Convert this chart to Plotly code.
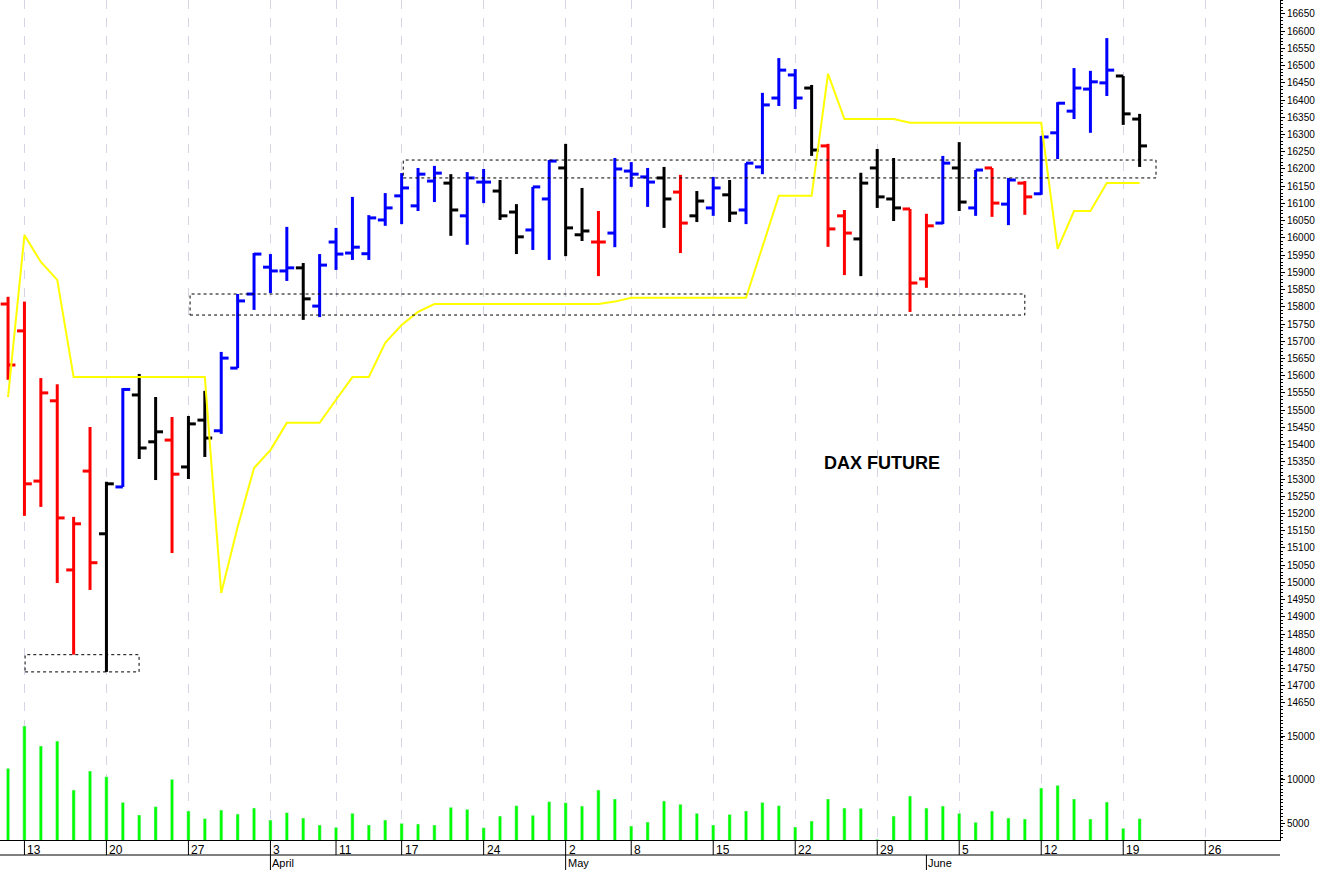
import plotly.graph_objects as go

# ---- data (index 0 = 10 Mar 2023, trading days) ----
opens  = [15808,15730,15294,15527,15036,15323,15141,15277,15544,15408,15413,15335,15471,15440,15622,15837,15915,15904,15913,15802,
          15988,15956,15954,16052,16122,16093,16165,16159,16064,16162,16136,16075,16023,16113,16203,16009,15988,16014,16194,16177,
          16174,16133,16064,16087,16125,16081,16206,16406,16473,16435,16267,16064,15997,16203,16113,16084,15881,16043,16203,16087,
          16203,16098,16159,16128,16305,16368,16432,16450,16470,16345]
highs  = [15829,15815,15593,15575,15190,15451,15292,15564,15605,15538,15480,15483,15556,15669,15837,15956,15953,16032,15927,15953,
          16029,16119,16066,16130,16188,16203,16209,16185,16191,16200,16168,16098,16148,16226,16273,16145,16078,16232,16220,16203,
          16206,16183,16136,16177,16168,16217,16421,16522,16490,16444,16273,16081,16189,16258,16232,16084,16070,16238,16278,16197,
          16203,16174,16165,16296,16394,16493,16485,16580,16470,16360]
lows   = [15588,15193,15219,14998,14790,14978,14740,15277,15358,15297,15085,15300,15364,15431,15622,15791,15840,15875,15762,15770,
          15907,15936,15936,16035,16040,16078,16104,16006,15980,16101,16052,15953,15965,15936,15947,15991,15889,15973,16148,16090,
          16029,15956,16046,16064,16046,16040,16185,16383,16374,16238,15974,15892,15889,16087,16049,15785,15855,16040,16078,16064,
          16061,16037,16067,16125,16229,16345,16305,16412,16328,16206]
closes = [15631,15286,15550,15187,15170,15057,15286,15560,15390,15437,15314,15460,15419,15651,15817,15953,15904,15913,15823,15921,
          15953,15973,16058,16087,16145,16185,16188,16081,16174,16162,16064,16003,16148,16223,16029,16020,15988,16200,16185,16162,
          16113,16043,16107,16145,16072,16217,16386,16487,16406,16255,16026,16014,16159,16119,16087,15869,16035,16217,16104,16197,
          16101,16168,16119,16293,16391,16435,16453,16487,16360,16267]
bar_color = list("RRRRRRKBKKRKKBBBBBKBBBBBBBBKBBKKBBKKRBBBKRKBKBBBBKRRKKKRRBKBRBRBBBBBKK")
volume = [11280,16150,13850,14420,8790,10970,10320,7370,5920,6880,10020,6380,5500,6490,6030,6720,5340,6190,5570,4770,
          4500,6110,4770,5340,4960,4880,4770,6800,6570,4460,5800,6990,5880,7450,7330,6950,8790,7760,4650,5110,
          7530,7150,6110,4770,5990,6380,7370,6990,4540,5230,7760,6720,6690,3120,5800,8100,6720,6950,6110,5080,
          6380,5570,5460,9020,9330,7760,5460,7410,4390,5500]
stop_line = [15538,16008,15930,15878,15596,15596,15596,15596,15596,15596,15596,15596,15596,14969,15161,15332,15384,15463,15463,15463,
             15530,15596,15596,15695,15747,15785,15808,15808,15808,15808,15808,15808,15808,15808,15808,15808,15808,15815,15826,15826,
             15826,15826,15826,15826,15826,15826,15974,16122,16122,16122,16476,16345,16345,16345,16345,16334,16334,16334,16334,16334,
             16334,16334,16334,16334,15968,16078,16078,16159,16159,16159]
week_idx = [1,6,11,16,20,24,29,34,38,43,48,53,58,63,68,73]
week_lbl = ["13","20","27","3","11","17","24","2","8","15","22","29","5","12","19","26"]
month_idx = [16,34,56]
month_lbl = ["April","May","June"]
boxes = [(1.04,7.99,14740,14790),(11.1,62.0,15776,15837),(24.1,70.0,16174,16226)]
price_ticks = list(range(14650,16651,50))
vol_ticks = [5000,10000,15000]

cmap = {"R":"#ff0000","B":"#0000ff","K":"#000000"}
fig = go.Figure()
tw = 0.45
for code, col in cmap.items():
    xs, ys = [], []
    for i in range(len(opens)):
        if bar_color[i] != code:
            continue
        xs += [i, i, None, i - tw, i, None, i, i + tw, None]
        ys += [lows[i], highs[i], None, opens[i], opens[i], None, closes[i], closes[i], None]
    fig.add_trace(go.Scatter(x=xs, y=ys, mode="lines", line=dict(color=col, width=3), hoverinfo="skip"))

fig.add_trace(go.Scatter(x=list(range(len(stop_line))), y=stop_line, mode="lines",
                         line=dict(color="#ffff00", width=2), hoverinfo="skip"))
fig.add_trace(go.Bar(x=list(range(len(volume))), y=volume, marker_color="#00ff00", width=0.2,
                     yaxis="y2", hoverinfo="skip"))

for x0, x1, y0, y1 in boxes:
    fig.add_shape(type="rect", x0=x0, x1=x1, y0=y0, y1=y1, xref="x", yref="y",
                  line=dict(color="black", width=1, dash="dot"))

px = 1 / 840
fig.add_shape(type="line", xref="paper", yref="paper", x0=0, x1=1, y0=-15 * px, y1=-15 * px,
              line=dict(color="black", width=1))
for i, t in zip(week_idx, week_lbl):
    fig.add_shape(type="line", xref="x", yref="paper", x0=i, x1=i, y0=0, y1=-15 * px,
                  line=dict(color="black", width=1))
    fig.add_annotation(x=i, y=-1 * px, xref="x", yref="paper", text=t, showarrow=False,
                       xanchor="left", yanchor="top", xshift=1, font=dict(size=12, family="Arial", color="black"))
for i, t in zip(month_idx, month_lbl):
    fig.add_shape(type="line", xref="x", yref="paper", x0=i, x1=i, y0=-15 * px, y1=-30 * px,
                  line=dict(color="black", width=1))
    fig.add_annotation(x=i, y=-15 * px, xref="x", yref="paper", text=t, showarrow=False,
                       xanchor="left", yanchor="top", xshift=0, font=dict(size=11, family="Arial", color="black"))

fig.add_annotation(x=53.3, y=15346, xref="x", yref="y", text="<b>DAX FUTURE</b>", showarrow=False,
                   font=dict(size=18, family="Arial", color="black"))
fig.add_annotation(x=1.0, y=3, xref="paper", yref="paper", text="x10", showarrow=False,
                   xanchor="left", yanchor="bottom", xshift=2, borderwidth=1, bordercolor="black",
                   borderpad=0, font=dict(size=8, family="Arial", color="black"))

fig.update_layout(
    width=1328, height=870, margin=dict(l=0, r=48, t=0, b=30, autoexpand=False),
    paper_bgcolor="white", plot_bgcolor="white", showlegend=False,
    xaxis=dict(range=[-0.49, 77.56], tickvals=week_idx, showticklabels=False, ticks="",
               showgrid=True, gridcolor="#d4d4e4", griddash="dash", gridwidth=1, automargin=False,
               showline=True, linecolor="black", linewidth=1, zeroline=False, fixedrange=True),
    yaxis=dict(range=[14252, 16690.6], side="right", tickvals=price_ticks, showgrid=False,
               tickformat="d", automargin=False,
               ticks="outside", ticklen=4, tickcolor="black", showline=True, linecolor="black",
               minor=dict(dtick=10, ticklen=2, ticks="outside", tickcolor="black", showgrid=False),
               tickfont=dict(size=10, family="Arial", color="black"), zeroline=False),
    yaxis2=dict(range=[3046, 99600], overlaying="y", side="right", tickvals=vol_ticks, showgrid=False,
                tickformat="d", automargin=False,
                ticks="outside", ticklen=4, tickcolor="black",
                tickfont=dict(size=10, family="Arial", color="black"), zeroline=False),
)
fig.write_html("out.html", config={"displayModeBar": False},
               post_script="document.body.style.margin='0';document.body.style.overflow='hidden';")
